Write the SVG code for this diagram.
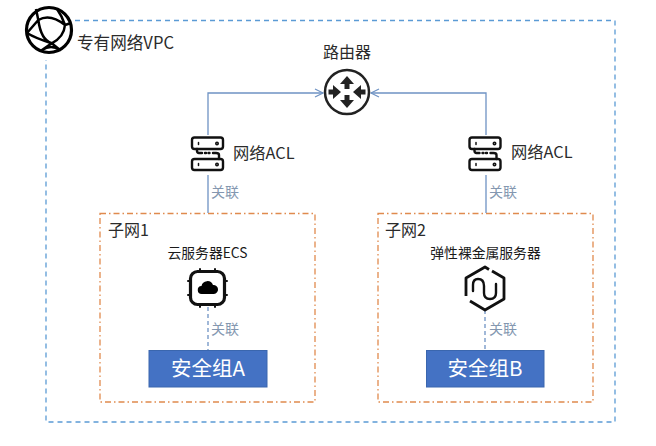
<svg xmlns="http://www.w3.org/2000/svg" width="656" height="446" viewBox="0 0 656 446">
<style>
text{font-family:"Noto Sans CJK SC","Noto Sans",sans-serif;fill:#2b2b2b}
.lk{font-size:14px;fill:#8497b0}
.acl{font-size:16.300px}
.sub{font-size:16px}
.srv{font-size:13.800px;text-anchor:middle;fill:#1a1a1a}
.sg{font-size:20.500px;fill:#fff;text-anchor:middle}
.subnet{fill:none;stroke:#e08a4e;stroke-width:1.300;stroke-dasharray:6 3 1.500 3}
.sgbox{fill:#4472c4;stroke:#3a66ae;stroke-width:1}
.ic{fill:none;stroke:#111;stroke-width:2.400;stroke-linecap:round;stroke-linejoin:round}
.thick{stroke-width:3.200}
.pin{stroke-width:2}
.hex{stroke-width:2.800;stroke-linecap:butt}
.ln{fill:none;stroke:#6f93c4;stroke-width:1.300}
.dl{fill:none;stroke:#6f93c4;stroke-width:1.300;stroke-dasharray:4 3}
</style>
<defs>
<marker id="a" markerWidth="12" markerHeight="12" refX="9" refY="5" orient="auto" markerUnits="userSpaceOnUse"><path d="M1 1L9 5L1 9" fill="none" stroke="#6f93c4" stroke-width="1.200"/></marker>
<g id="aclicon" class="ic">
<rect x="-16" y="-16.500" width="31" height="11.500" rx="2.500"/>
<rect x="-16" y="5" width="31" height="11" rx="2.500"/>
<path d="M-11 -5V-3Q-11 -1 -9 -1H-6M5 -1H8Q11 -1 11 1V5"/>
<path d="M-3 -1H3" stroke-dasharray="1 2.500"/>
<path d="M-9.500 -11.500V-9.500M-9.500 9.500V11.500" stroke-width="1.500"/>
<circle cx="9" cy="-10.500" r=".8"/><circle cx="9" cy="10.500" r=".8"/>
</g>
</defs>
<rect width="656" height="446" fill="#fff"/>
<g id="vpc">
<path d="M75 20.500H615V422H46V60" fill="none" stroke="#5b9bd5" stroke-width="1.300" stroke-dasharray="5 4"/>
<text x="77" y="49" font-size="16.600">专有网络VPC</text>
</g>
<g id="globe" fill="none" stroke="#000">
<circle cx="49" cy="30" r="22.500" stroke-width="3.200"/>
<path d="M36 9L38.300 20Q50 13 65 25Q64 37 51.700 43.300Q41 40 38.300 20M38.300 20L27 33Q35 38 51.700 43.300L42 50Q51 44 60 50L51.700 43.300M65 25L71 23M65 25Q62 16 57 9" stroke-width="2.500" stroke-linejoin="round"/>
</g>
<g id="subnet1">
<rect class="subnet" x="100" y="213.500" width="215" height="188.500"/>
<text class="sub" x="108" y="236">子网1</text>
<text class="srv" x="207.500" y="258">云服务器ECS</text>
</g>
<g id="subnet2">
<rect class="subnet" x="378" y="213.500" width="215" height="188.500"/>
<text class="sub" x="385" y="236">子网2</text>
<text class="srv" x="485.500" y="258">弹性裸金属服务器</text>
</g>
<g id="connectors">
<path class="ln" d="M208 213V93H323" marker-end="url(#a)"/>
<path class="ln" d="M486 213V93H371" marker-end="url(#a)"/>
<path class="dl" d="M208 307V350"/>
<path class="dl" d="M485 310V350"/>
</g>
<g id="router">
<text x="347" y="58" font-size="16" text-anchor="middle">路由器</text>
<circle cx="347" cy="92" r="22" fill="#fff" stroke="#222" stroke-width="2.500"/>
<path fill="#222" d="M347 76l7 8h-4.500v5h-5v-5h-4.500zM347 108l7 -8h-4.500v-5h-5v5h-4.500zM341 92l-8 -7v4.500h-4.500v5h4.500v4.500zM353 92l8 -7v4.500h4.500v5h-4.500v4.500z"/>
</g>
<g id="acl1">
<rect x="190" y="135" width="36" height="40" fill="#fff"/>
<use href="#aclicon" x="208" y="154"/>
<text class="acl" x="233" y="159">网络ACL</text>
</g>
<g id="acl2">
<rect x="468" y="135" width="36" height="40" fill="#fff"/>
<use href="#aclicon" x="485.500" y="154"/>
<text class="acl" x="511" y="158">网络ACL</text>
</g>
<text class="lk" x="211" y="197">关联</text>
<text class="lk" x="489" y="197">关联</text>
<g id="ecs">
<rect x="190.500" y="271.500" width="34" height="33" rx="7" class="ic thick"/>
<path d="M200 271v-2M215 271v-2M200 305v2M215 305v2M190 281h-2M190 295h-2M225 281h2M225 295h2" class="ic pin"/>
<path fill="#000" d="M202 294a4 4 0 0 1 -.5 -8a6 6 0 0 1 11.500 -1a4.500 4.500 0 0 1 1 9z"/>
</g>
<g id="bms">
<path class="ic hex" d="M489 269.500L485 267L466 278V296M470 301L485 310L504 299V278L492 271"/>
<path class="ic" d="M473 291V285Q473 279 478 279Q484 279 484 286V293Q484 299 490 299Q496 299 496 293V284"/>
</g>
<text class="lk" x="211" y="334">关联</text>
<text class="lk" x="489" y="334">关联</text>
<g id="sga"><rect class="sgbox" x="149" y="350.500" width="118" height="36.500"/><text class="sg" x="208" y="375.500">安全组A</text></g>
<g id="sgb"><rect class="sgbox" x="426.500" y="350.500" width="117.500" height="36.500"/><text class="sg" x="485" y="375.500">安全组B</text></g>
</svg>
